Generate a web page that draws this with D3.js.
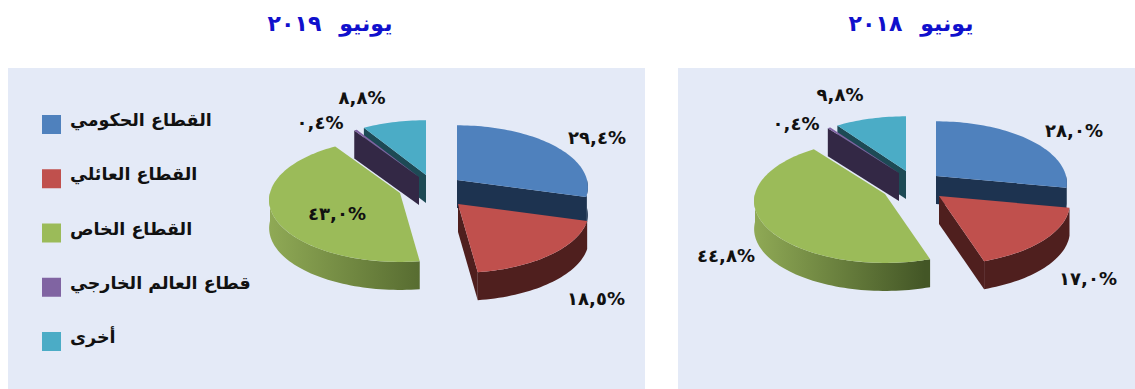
<!DOCTYPE html>
<html>
<head>
<meta charset="utf-8">
<script src="https://cdn.jsdelivr.net/npm/d3@7"></script>
<style>
  html, body { margin: 0; padding: 0; background: #fff; }
  svg { display: block; font-family: "DejaVu Sans", sans-serif; font-weight: bold; }
</style>
</head>
<body>
<div id="chart"></div>
<script>
const sectors = ["القطاع الحكومي", "القطاع العائلي", "القطاع الخاص", "قطاع العالم الخارجي", "أخرى"];
const values2018 = [28.0, 17.0, 44.8, 0.4, 9.8];
const values2019 = [29.4, 18.5, 43.0, 0.4, 8.8];
const topColors = ["#4f81bd", "#c0504d", "#9bbb59", "#8064a2", "#4bacc6"];
const wallColors = ["#1d3350", "#4f1f1e", "#6f8a3f", "#332845", "#1d4a55"];

const width = 1135, height = 389;
const rx = 130, ry = 61, depth = 28, persp = 0.115;

// where each exploded slice has its tip, and where its label sits
const panels = [
  {
    title: "يونيو", year: "٢٠١٨", titleX: 911, values: values2018,
    rect: [678, 68, 457, 321],
    tips: [[936, 176], [939, 196], [885, 194], [899, 173], [906, 171]],
    labels: [[1074, 130], [1088, 278], [726, 255], [796, 123], [840, 94]],
    green: ["#8fa955", "#435626"]
  },
  {
    title: "يونيو", year: "٢٠١٩", titleX: 330, values: values2019,
    rect: [8, 68, 637, 321],
    tips: [[457, 180], [458, 204], [400, 193], [419, 177], [426, 175]],
    labels: [[597, 137], [596, 298], [337, 213], [320, 122], [362, 97]],
    green: ["#8fa955", "#50642c"]
  }
];

const svg = d3.select("#chart").append("svg").attr("width", width).attr("height", height);
const defs = svg.append("defs");
const color = d3.scaleOrdinal().domain(sectors).range(topColors);
const wall = d3.scaleOrdinal().domain(sectors).range(wallColors);
const pie = d3.pie().sort(null);
const line = d3.line();
const arabicDigits = s => s.replace(/\d/g, c => "٠١٢٣٤٥٦٧٨٩"[+c]).replace(".", ",");
const fmt = v => arabicDigits(d3.format(".1f")(v)) + "%";

function project(tip, a, r, z) {
  const X = r * Math.sin(a), Y = -r * Math.cos(a);
  const s = 1 / (1 - persp * Y);
  return [tip[0] + X * rx * s, tip[1] + Y * ry * s + z];
}

function arcPoints(tip, a0, a1, z) {
  const n = Math.max(2, Math.ceil((a1 - a0) / 0.03));
  return d3.range(n + 1).map(i => project(tip, a0 + (a1 - a0) * i / n, 1, z));
}

function drawSlice(g, p, arc, i, gradId) {
  const tip = p.tips[i], name = sectors[i];
  const a0 = arc.startAngle, a1 = arc.endAngle;

  // flat side at the cut edges, only when it faces the viewer
  [[a1, Math.sin(a1) > 0.01], [a0, Math.sin(a0) < -0.01]].forEach(([a, show]) => {
    if (!show) return;
    const c = project(tip, a, 1, 0), c2 = project(tip, a, 1, depth);
    g.append("path")
      .attr("d", line([tip, c, c2, [tip[0], tip[1] + depth]]) + "Z")
      .attr("fill", wall(name));
  });

  // rim, front half only
  const v0 = Math.max(a0, Math.PI / 2), v1 = Math.min(a1, Math.PI * 1.5);
  if (v1 > v0) {
    const top = arcPoints(tip, v0, v1, 0);
    const bottom = arcPoints(tip, v0, v1, depth).reverse();
    g.append("path")
      .attr("d", line(top.concat(bottom)) + "Z")
      .attr("fill", name === sectors[2] ? `url(#${gradId})` : wall(name));
  }

  // top face
  const face = [tip].concat(arcPoints(tip, a0, a1, 0));
  g.append("path").attr("d", line(face) + "Z").attr("fill", color(name));
}

panels.forEach((p, k) => {
  svg.append("rect")
    .attr("x", p.rect[0]).attr("y", p.rect[1])
    .attr("width", p.rect[2]).attr("height", p.rect[3])
    .attr("fill", "#e4eaf7");

  const title = svg.append("text")
    .attr("x", p.titleX).attr("y", 31)
    .attr("text-anchor", "middle").attr("direction", "rtl")
    .attr("fill", "#1010cc").attr("font-size", 22);
  title.append("tspan").text(p.title);
  title.append("tspan").attr("dx", -18).attr("letter-spacing", 9).text(p.year);

  const gradId = "rim" + k;
  const grad = defs.append("linearGradient").attr("id", gradId)
    .attr("gradientUnits", "userSpaceOnUse")
    .attr("x1", p.tips[2][0] - rx).attr("x2", p.tips[2][0] + 40)
    .attr("y1", 0).attr("y2", 0);
  grad.append("stop").attr("offset", 0).attr("stop-color", p.green[0]);
  grad.append("stop").attr("offset", 1).attr("stop-color", p.green[1]);

  const arcs = pie(p.values);
  const g = svg.append("g");
  // back slices first, the red one last because it covers the blue side
  [0, 4, 2, 3, 1].forEach(i => drawSlice(g, p, arcs[i], i, gradId));

  svg.append("g").selectAll("text").data(p.values).join("text")
    .attr("x", (d, i) => p.labels[i][0])
    .attr("y", (d, i) => p.labels[i][1] + 7)
    .attr("text-anchor", "middle")
    .attr("direction", "ltr")
    .attr("font-size", 18)
    .attr("fill", "#111")
    .text(fmt);
});

const legendY = d3.scalePoint().domain(sectors).range([115, 332]);
const legend = svg.append("g").selectAll("g").data(sectors).join("g")
  .attr("transform", d => `translate(42,${legendY(d)})`);
legend.append("rect").attr("width", 19).attr("height", 19).attr("fill", d => color(d));
legend.append("text")
  .attr("x", 28).attr("y", 11)
  .attr("direction", "rtl").attr("text-anchor", "end")
  .attr("font-size", 17.5).attr("fill", "#111")
  .text(d => d);
</script>
</body>
</html>
